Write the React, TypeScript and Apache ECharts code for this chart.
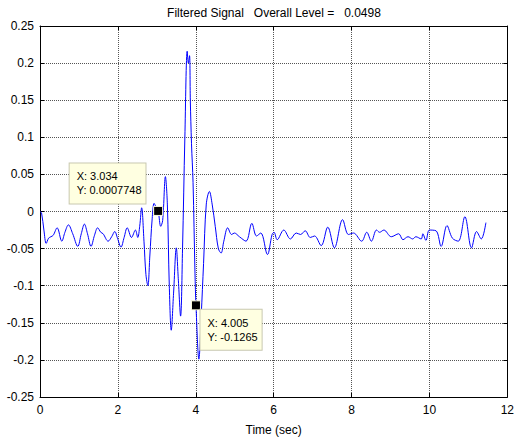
import React, { useEffect, useRef } from "react";
import * as echarts from "echarts";

const titleText = "Filtered Signal   Overall Level =   0.0498";
const xAxisName = "Time (sec)";

const timeSec = [
  0.0, 0.04, 0.1, 0.16, 0.22, 0.28, 0.34, 0.44, 0.56, 0.64, 0.73, 0.84, 0.97,
  1.06, 1.14, 1.22, 1.31, 1.4, 1.48, 1.56, 1.62, 1.75, 1.84, 1.92, 1.99, 2.08,
  2.16, 2.24, 2.35, 2.45, 2.51, 2.56, 2.61, 2.67, 2.72, 2.77, 2.82, 2.88, 2.93,
  2.98, 3.034, 3.1, 3.15, 3.22, 3.27, 3.32, 3.37, 3.43, 3.5, 3.55, 3.61, 3.66,
  3.72, 3.78, 3.81, 3.84, 3.86, 3.89, 3.93, 3.98, 4.005, 4.08, 4.14, 4.2, 4.27,
  4.35, 4.42, 4.5, 4.58, 4.65, 4.72, 4.82, 4.92, 4.99, 5.12, 5.29, 5.44, 5.56,
  5.67, 5.84, 5.96, 6.01, 6.09, 6.26, 6.43, 6.58, 6.69, 6.81, 6.94, 7.05, 7.22,
  7.39, 7.56, 7.77, 7.92, 8.05, 8.26, 8.39, 8.51, 8.64, 8.72, 8.83, 9.02, 9.21,
  9.32, 9.45, 9.57, 9.65, 9.79, 9.83, 9.91, 10.0, 10.17, 10.3, 10.45, 10.59,
  10.74, 10.91, 11.08, 11.21, 11.33, 11.45,
];

const signalLevel = [
  0.0, -0.002, -0.025, -0.043, -0.036, -0.034, -0.032, -0.022, -0.04, -0.028,
  -0.018, -0.03, -0.047, -0.03, -0.017, -0.03, -0.047, -0.032, -0.022, -0.028,
  -0.03, -0.04, -0.034, -0.027, -0.036, -0.048, -0.035, -0.022, -0.035, -0.025,
  -0.035, -0.02, 0.005, -0.04, -0.085, -0.1, -0.06, -0.01, 0.011, 0.006,
  0.0007748, -0.02, -0.012, 0.047, 0.01, -0.1, -0.16, -0.11, -0.049, -0.09,
  -0.141, -0.05, 0.1, 0.216, 0.2, 0.21, 0.15, 0.092, 0.039, -0.083, -0.1265,
  -0.199, -0.14, -0.07, 0.01, 0.027, 0.01, -0.02, -0.05, -0.056, -0.04, -0.022,
  -0.031, -0.029, -0.034, -0.04, -0.016, -0.033, -0.029, -0.058, -0.031, -0.028,
  -0.038, -0.025, -0.037, -0.029, -0.031, -0.026, -0.035, -0.033, -0.046,
  -0.021, -0.049, -0.011, -0.031, -0.029, -0.04, -0.028, -0.04, -0.025, -0.028,
  -0.025, -0.034, -0.03, -0.038, -0.034, -0.037, -0.034, -0.037, -0.03, -0.039,
  -0.025, -0.026, -0.047, -0.019, -0.036, -0.04, -0.007, -0.049, -0.027,
  -0.037, -0.015,
];

const tipX = [3.034, 4.005];
const tipY = [0.0007748, -0.1265];
const tipText = ["X: 3.034\nY: 0.0007748", "X: 4.005\nY: -0.1265"];

const FONT = "Liberation Sans, Arial, Helvetica, sans-serif";

export default function App() {
  const ref = useRef<HTMLDivElement>(null);

  useEffect(() => {
    document.body.style.margin = "0";
    if (!ref.current) return;
    const chart = echarts.init(ref.current, undefined, { renderer: "svg" });

    const lineData = timeSec.map((t, i) => [t, signalLevel[i]]);
    const tipPositions: [number, number][] = [
      [-83.5, -42.5],
      [9.5, 9.5],
    ];
    const tipData = tipX.map((x, i) => ({
      value: [x, tipY[i]],
      label: {
        show: true,
        position: tipPositions[i],
        formatter: tipText[i],
        align: "left",
        verticalAlign: "top",
      },
    }));

    const gridLine = { show: true, lineStyle: { color: "#555", type: "dotted" as const, width: 1 } };
    const axisLine = { show: true, onZero: false, lineStyle: { color: "#000", width: 1 } };
    const tick = { show: true, inside: true, length: 4, lineStyle: { color: "#000" } };
    const labelStyle = { color: "#000", fontFamily: FONT, fontSize: 12 };

    chart.setOption({
      animation: false,
      backgroundColor: "#fff",
      grid: { left: 40, right: 6, top: 26, bottom: 45, containLabel: false },
      graphic: [
        {
          type: "text",
          x: 274,
          y: 13,
          style: {
            text: titleText,
            textAlign: "center",
            textVerticalAlign: "middle",
            fill: "#000",
            font: `12px ${FONT}`,
          },
        },
      ],
      xAxis: [
        {
          type: "value",
          min: 0,
          max: 12,
          interval: 2,
          position: "bottom",
          name: xAxisName,
          nameLocation: "middle",
          nameGap: 27,
          nameTextStyle: { ...labelStyle },
          axisLine,
          axisTick: tick,
          axisLabel: { ...labelStyle, margin: 7 },
          splitLine: gridLine,
        },
        {
          type: "value",
          min: 0,
          max: 12,
          interval: 2,
          position: "top",
          axisLine,
          axisTick: tick,
          axisLabel: { show: false },
          splitLine: { show: false },
        },
      ],
      yAxis: [
        {
          type: "value",
          min: -0.25,
          max: 0.25,
          interval: 0.05,
          position: "left",
          axisLine,
          axisTick: tick,
          axisLabel: { ...labelStyle, margin: 6 },
          splitLine: gridLine,
        },
        {
          type: "value",
          min: -0.25,
          max: 0.25,
          interval: 0.05,
          position: "right",
          axisLine,
          axisTick: tick,
          axisLabel: { show: false },
          splitLine: { show: false },
        },
      ],
      series: [
        {
          type: "line",
          data: lineData,
          xAxisIndex: 0,
          yAxisIndex: 0,
          showSymbol: false,
          smooth: 0.35,
          lineStyle: { color: "#0000ff", width: 1 },
          z: 2,
        },
        {
          type: "scatter",
          data: tipData,
          xAxisIndex: 0,
          yAxisIndex: 0,
          symbol: "rect",
          symbolSize: 9,
          itemStyle: { color: "#000", borderColor: "#ffffe1", borderWidth: 1, opacity: 1 },
          label: {
            color: "#000",
            fontFamily: FONT,
            fontSize: 11,
            lineHeight: 14,
            backgroundColor: "#ffffe1",
            borderColor: "#c8c8b0",
            borderWidth: 1,
            padding: [6, 4, 6, 7],
          },
          z: 5,
        },
      ],
    });

    return () => chart.dispose();
  }, []);

  return <div ref={ref} style={{ width: 517, height: 442 }} />;
}
